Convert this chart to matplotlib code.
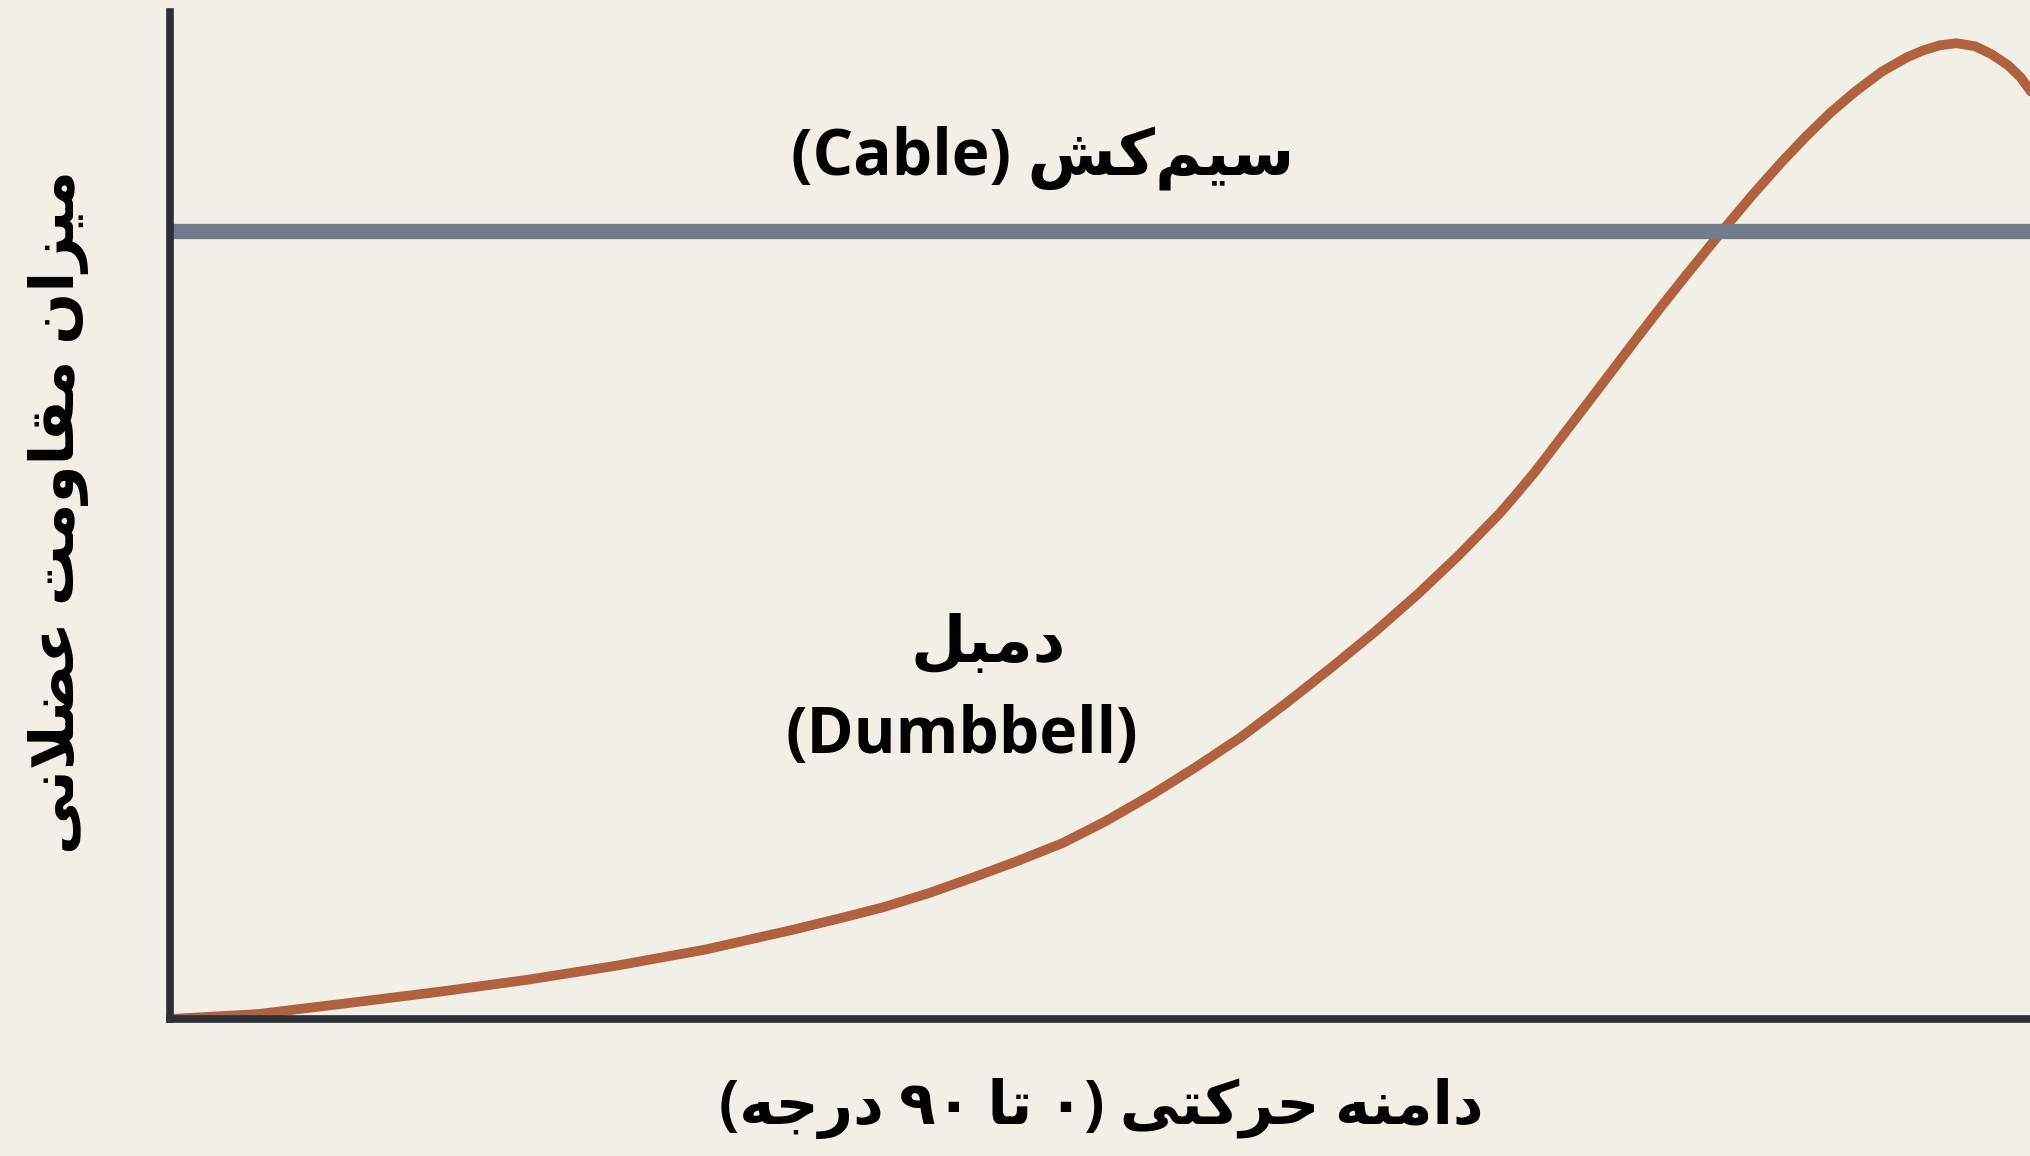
import matplotlib
matplotlib.use("Agg")
import matplotlib.pyplot as plt

# range of motion (deg) vs relative muscle resistance
angle_deg = [0, 4.3, 8.7, 13.0, 17.3, 21.6, 25.9, 30.2, 32.4, 34.5, 36.7, 38.9,
             41.0, 43.2, 45.3, 47.5, 49.6, 51.8, 54.0, 56.1, 58.3, 60.4, 62.3,
             63.3, 64.3, 65.1, 66.0, 67.6, 69.2, 70.9, 72.1, 73.3, 75.0, 76.6,
             77.9, 79.1, 80.3, 81.5, 82.8, 84.0, 84.8, 85.6, 86.4, 87.3, 88.1,
             88.9, 89.5, 90.0]
dumbbell = [0, 0.5, 1.6, 2.7, 3.9, 5.3, 6.9, 8.9, 10.0, 11.1, 12.5, 14.1,
            15.7, 17.5, 19.7, 22.3, 25.0, 28.0, 31.4, 34.8, 38.5, 42.3, 46.0,
            48.1, 50.2, 52.1, 54.3, 58.6, 62.9, 67.5, 70.7, 73.8, 78.1, 82.0,
            85.0, 87.6, 90.0, 92.1, 94.1, 95.5, 96.2, 96.7, 96.9, 96.6, 95.8,
            94.7, 93.5, 92.1]
cable_level = 78.3

cable_label = "سیم‌کش (Cable)"
dumbbell_fa = "دمبل"
dumbbell_en = "(Dumbbell)"
xlabel = "دامنه حرکتی (۰ تا ۹۰ درجه)"
ylabel = "میزان مقاومت عضلانی"

BG = "#f2efe7"
AXIS = "#2b3038"
CABLE = "#6f7c8b"
CURVE = "#b0613f"

# --- tiny persian shaper (matplotlib has no complex text layout) ---
# isolated, final, initial, medial
FORMS = {
    "\u0627": ("\uFE8D", "\uFE8E", None, None),
    "\u0628": ("\uFE8F", "\uFE90", "\uFE91", "\uFE92"),
    "\u062A": ("\uFE95", "\uFE96", "\uFE97", "\uFE98"),
    "\u062C": ("\uFE9D", "\uFE9E", "\uFE9F", "\uFEA0"),
    "\u062D": ("\uFEA1", "\uFEA2", "\uFEA3", "\uFEA4"),
    "\u062F": ("\uFEA9", "\uFEAA", None, None),
    "\u0631": ("\uFEAD", "\uFEAE", None, None),
    "\u0632": ("\uFEAF", "\uFEB0", None, None),
    "\u0633": ("\uFEB1", "\uFEB2", "\uFEB3", "\uFEB4"),
    "\u0634": ("\uFEB5", "\uFEB6", "\uFEB7", "\uFEB8"),
    "\u0636": ("\uFEBD", "\uFEBE", "\uFEBF", "\uFEC0"),
    "\u0639": ("\uFEC9", "\uFECA", "\uFECB", "\uFECC"),
    "\u0642": ("\uFED5", "\uFED6", "\uFED7", "\uFED8"),
    "\u0644": ("\uFEDD", "\uFEDE", "\uFEDF", "\uFEE0"),
    "\u0645": ("\uFEE1", "\uFEE2", "\uFEE3", "\uFEE4"),
    "\u0646": ("\uFEE5", "\uFEE6", "\uFEE7", "\uFEE8"),
    "\u0647": ("\uFEE9", "\uFEEA", "\uFEEB", "\uFEEC"),
    "\u0648": ("\uFEED", "\uFEEE", None, None),
    "\u06A9": ("\uFB8E", "\uFB8F", "\uFB90", "\uFB91"),
    "\u06CC": ("\uFBFC", "\uFBFD", "\uFBFE", "\uFBFF"),
}


def dual(c):
    return c in FORMS and FORMS[c][2] is not None


def shape(s):
    out = []
    i = 0
    while i < len(s):
        c = s[i]
        if c not in FORMS:
            if c != "\u200c":
                out.append(c)
            i += 1
            continue
        prev_join = i > 0 and dual(s[i - 1])
        nxt = s[i + 1] if i + 1 < len(s) else ""
        if c == "\u0644" and nxt == "\u0627":
            out.append("\uFEFC" if prev_join else "\uFEFB")
            i += 2
            continue
        next_join = dual(c) and nxt in FORMS
        iso, fin, ini, med = FORMS[c]
        if prev_join and next_join:
            out.append(med)
        elif prev_join:
            out.append(fin)
        elif next_join:
            out.append(ini)
        else:
            out.append(iso)
        i += 1
    return "".join(out)


def ltr(c):
    return (c.isascii() and c.isalnum()) or "\u06f0" <= c <= "\u06f9"


def rtl(s):
    rev = shape(s)[::-1]
    res, run = [], []
    for c in rev:
        if ltr(c):
            run.append(c)
            continue
        res.extend(run[::-1])
        run = []
        res.append({"(": ")", ")": "("}.get(c, c))
    res.extend(run[::-1])
    return "".join(res)


plt.rcParams["font.family"] = ["Open Sans", "DejaVu Sans"]

fig = plt.figure(figsize=(20.31, 11.56), dpi=100, facecolor=BG)
ax = fig.add_axes([0.0837, 0.1185, 0.9163, 0.8711])
ax.set_facecolor(BG)

ax.plot(angle_deg, dumbbell, color=CURVE, lw=7, solid_capstyle="round",
        solid_joinstyle="round", zorder=2)
ax.axhline(cable_level, color=CABLE, lw=11, zorder=3)

ax.set_xlim(0, 90)
ax.set_ylim(0, 100)
for side in ["top", "right"]:
    ax.spines[side].set_visible(False)
for side in ["left", "bottom"]:
    ax.spines[side].set_color(AXIS)
    ax.spines[side].set_linewidth(5.5)
    ax.spines[side].set_zorder(4)
ax.set_xticks([])
ax.set_yticks([])

fig.text(0.5135, 0.8633, rtl(cable_label), fontsize=46, fontweight="bold",
         ha="center", va="center")
fig.text(0.4865, 0.442, rtl(dumbbell_fa), fontsize=46, fontweight="bold",
         ha="center", va="center")
fig.text(0.4737, 0.3633, dumbbell_en, fontsize=46, fontweight="bold",
         ha="center", va="center")
fig.text(0.542, 0.0415, rtl(xlabel), fontsize=43, fontweight="bold",
         ha="center", va="center")
fig.text(0.0286, 0.557, rtl(ylabel), fontsize=44, fontweight="bold",
         ha="center", va="center", rotation=90)

fig.savefig("out.png", dpi=100, facecolor=BG)
